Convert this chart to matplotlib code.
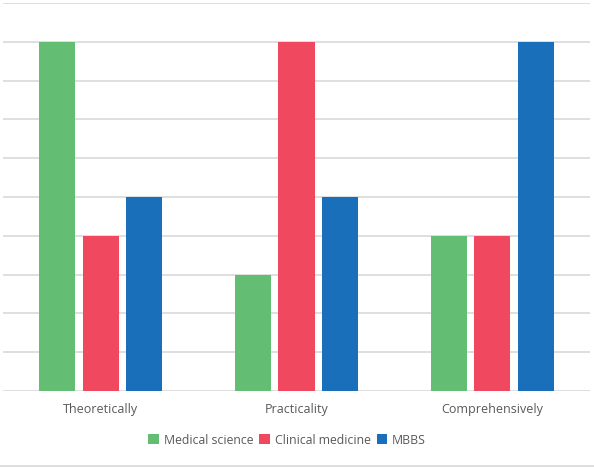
import matplotlib
matplotlib.use("Agg")
import matplotlib.pyplot as plt
from matplotlib.lines import Line2D
import numpy as np

categories = ["Theoretically", "Practicality", "Comprehensively"]
series_names = ["Medical science", "Clinical medicine", "MBBS"]
medical_science = [9, 3, 4]
clinical_medicine = [4, 9, 4]
mbbs = [5, 5, 9]
colors = ["#63BE74", "#F0485E", "#1A6FBA"]

plt.rcParams['font.family'] = ['Open Sans', 'DejaVu Sans']
fig = plt.figure(figsize=(5.94, 4.67), dpi=100)
W, H = 594, 467
ax = fig.add_axes([3 / W, 1 - 391 / H, 587 / W, 388 / H])

x = np.arange(len(categories))
width = 0.184
step = 0.222
for i, (vals, name, c) in enumerate(zip([medical_science, clinical_medicine, mbbs], series_names, colors)):
    ax.bar(x + (i - 1) * step, vals, width, color=c, label=name, zorder=3)

ax.set_xlim(-0.5, 2.5)
ax.set_ylim(0, 10)
ax.set_yticks(np.arange(0, 11, 1))
ax.yaxis.grid(True, color="#D9D9D9", linewidth=1.2, zorder=0)
ax.set_yticklabels([])
ax.tick_params(axis='y', length=0)
ax.tick_params(axis='x', length=0, pad=9, labelsize=9, labelcolor="#595959")
ax.set_xticks(x)
ax.set_xticklabels(categories)
for s in ax.spines.values():
    s.set_visible(False)

leg = fig.legend(loc='center', bbox_to_anchor=(287 / W, 1 - 440 / H), ncol=3, frameon=False,
                 fontsize=8.8, handlelength=0.85, handleheight=0.85, handletextpad=0.4,
                 columnspacing=0.5, labelcolor="#595959")

fig.add_artist(Line2D([0, 1], [1 - 465.5 / H] * 2, color="#D9D9D9", linewidth=1.2, transform=fig.transFigure))

fig.savefig("out.png", dpi=100, facecolor="white")
